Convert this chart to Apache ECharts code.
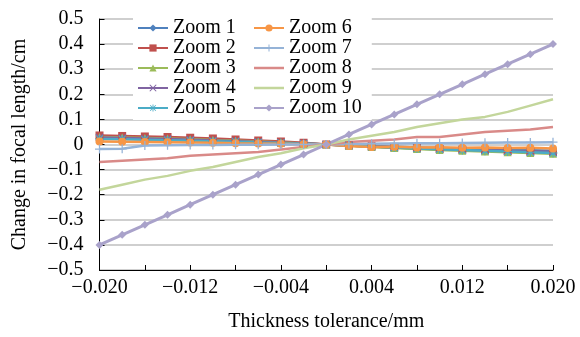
<!DOCTYPE html>
<html>
<head>
<meta charset="utf-8">
<script src="https://cdn.jsdelivr.net/npm/echarts@6/dist/echarts.min.js"></script>
<style>html,body{margin:0;padding:0;background:#fff;}#c{width:580px;height:337px;}</style>
</head>
<body>
<div id="c"></div>
<script>
var xValues = [-0.020,-0.018,-0.016,-0.014,-0.012,-0.010,-0.008,-0.006,-0.004,-0.002,0,0.002,0.004,0.006,0.008,0.010,0.012,0.014,0.016,0.018,0.020];
var zoom1 = [0.025,0.023,0.021,0.019,0.017,0.015,0.012,0.010,0.007,0.004,0,-0.003,-0.006,-0.009,-0.012,-0.015,-0.017,-0.019,-0.021,-0.023,-0.025];
var zoom2 = [0.036,0.034,0.032,0.030,0.027,0.024,0.020,0.016,0.012,0.007,0,-0.004,-0.008,-0.012,-0.015,-0.018,-0.021,-0.024,-0.027,-0.029,-0.031];
var zoom3 = [0.030,0.028,0.026,0.024,0.021,0.018,0.015,0.012,0.008,0.004,0,-0.005,-0.010,-0.014,-0.018,-0.022,-0.025,-0.028,-0.031,-0.034,-0.037];
var zoom4 = [0.028,0.026,0.024,0.022,0.019,0.016,0.013,0.010,0.007,0.004,0,-0.004,-0.008,-0.011,-0.014,-0.017,-0.020,-0.023,-0.026,-0.028,-0.030];
var zoom5 = [0.022,0.021,0.019,0.017,0.015,0.013,0.011,0.008,0.006,0.003,0,-0.004,-0.008,-0.012,-0.016,-0.019,-0.022,-0.025,-0.028,-0.031,-0.034];
var zoom6 = [0.012,0.011,0.010,0.009,0.008,0.007,0.005,0.004,0.003,0.001,0,-0.006,-0.010,-0.009,-0.012,-0.011,-0.013,-0.012,-0.014,-0.013,-0.016];
var zoom7 = [-0.018,-0.017,-0.004,-0.003,-0.002,-0.002,-0.001,-0.001,0,0,0,0.002,0.003,0.004,0.005,0.005,0.006,0.007,0.008,0.008,0.009];
var zoom8 = [-0.070,-0.065,-0.060,-0.055,-0.045,-0.040,-0.035,-0.030,-0.020,-0.010,0,0.010,0.015,0.020,0.030,0.030,0.040,0.050,0.055,0.060,0.070];
var zoom9 = [-0.180,-0.160,-0.140,-0.125,-0.105,-0.090,-0.070,-0.050,-0.035,-0.015,0,0.020,0.035,0.050,0.070,0.085,0.100,0.110,0.130,0.155,0.180];
var zoom10 = [-0.40,-0.36,-0.32,-0.28,-0.24,-0.20,-0.16,-0.12,-0.08,-0.04,0,0.04,0.08,0.12,0.16,0.20,0.24,0.28,0.32,0.36,0.40];
var seriesNames = ['Zoom 1','Zoom 2','Zoom 3','Zoom 4','Zoom 5','Zoom 6','Zoom 7','Zoom 8','Zoom 9','Zoom 10'];
var seriesData = [zoom1,zoom2,zoom3,zoom4,zoom5,zoom6,zoom7,zoom8,zoom9,zoom10];

var FONT = '"Liberation Serif","Times New Roman",serif';
var crossPath = 'path://M1,0 L5,4 L9,0 L10,1 L6,5 L10,9 L9,10 L5,6 L1,10 L0,9 L4,5 L0,1 Z';
var plusPath = 'path://M4.3,0 H5.7 V4.3 H10 V5.7 H5.7 V10 H4.3 V5.7 H0 V4.3 H4.3 Z';
var starPath = 'path://M4.4,0 H5.6 V4.4 H10 V5.6 H5.6 V10 H4.4 V5.6 H0 V4.4 H4.4 Z M1.5,0.7 L5,4.2 L8.5,0.7 L9.3,1.5 L5.8,5 L9.3,8.5 L8.5,9.3 L5,5.8 L1.5,9.3 L0.7,8.5 L4.2,5 L0.7,1.5 Z';
var lineIcon = 'path://M0,0 H30 V2.5 H0 Z';
var styles = [
  {color:'#4F81BD', symbol:'diamond', size:8},
  {color:'#C0504D', symbol:'rect', size:8},
  {color:'#9BBB59', symbol:'triangle', size:8},
  {color:'#8064A2', symbol:crossPath, size:8},
  {color:'#4BACC6', symbol:starPath, size:9},
  {color:'#F79646', symbol:'circle', size:8},
  {color:'#95B3D7', symbol:plusPath, size:9},
  {color:'#D98A88', symbol:'none', size:0},
  {color:'#C3D69B', symbol:'none', size:0},
  {color:'#A9A2CA', symbol:'diamond', size:8}
];

var series = seriesNames.map(function(n,i){
  var st = styles[i];
  return {
    name: n, type: 'line',
    data: xValues.map(function(x,j){ return [x, seriesData[i][j]]; }),
    symbol: st.symbol, symbolSize: st.size, showSymbol: st.symbol !== 'none',
    lineStyle: {color: st.color, width: i === 9 ? 3 : 2.5},
    itemStyle: {color: st.color},
    animation: false
  };
});

function legendData(names){
  return names.map(function(n){
    var i = seriesNames.indexOf(n);
    if (styles[i].symbol === 'none') return {name:n, icon:lineIcon, itemStyle:{color:styles[i].color}};
    return {name:n};
  });
}

var chart = echarts.init(document.getElementById('c'), null, {renderer:'canvas'});
chart.setOption({
  backgroundColor: '#fff',
  animation: false,
  grid: {left: 99.5, right: 27, top: 19, bottom: 65},
  legend: [
    {data: legendData(seriesNames.slice(0,5)), orient:'vertical', left:133, top:16, itemGap:0, itemWidth:30, itemHeight:9,
     backgroundColor:'#fff', padding:[2,16,2,4],
     textStyle:{fontFamily:FONT, fontSize:20, color:'#000', lineHeight:19.5}},
    {data: legendData(seriesNames.slice(5)), orient:'vertical', left:249, top:16, itemGap:0, itemWidth:30, itemHeight:9,
     backgroundColor:'#fff', padding:[2,10,2,4],
     textStyle:{fontFamily:FONT, fontSize:20, color:'#000', lineHeight:19.5}}
  ],
  xAxis: {
    type:'value', min:-0.020, max:0.020, interval:0.004,
    name:'Thickness tolerance/mm', nameLocation:'middle', nameGap:42,
    nameTextStyle:{fontFamily:FONT, fontSize:20, color:'#000'},
    axisLine:{show:true, onZero:false, lineStyle:{color:'#000', width:1}},
    axisTick:{show:true, inside:true, length:5, lineStyle:{color:'#000'}},
    splitLine:{show:false},
    axisLabel:{fontFamily:FONT, fontSize:20, color:'#000', margin:8,
      formatter:function(v){
        var r = Math.round(v*1000);
        if (Math.abs(r % 8) !== 4) return '';
        var s = Math.abs(v).toFixed(3);
        return (v < 0 ? '\u2212' : '') + s;
      }}
  },
  yAxis: {
    type:'value', min:-0.5, max:0.5, interval:0.1,
    name:'Change in focal length/cm', nameLocation:'middle', nameGap:70,
    nameTextStyle:{fontFamily:FONT, fontSize:20, color:'#000'},
    axisLine:{show:true, onZero:false, lineStyle:{color:'#000', width:1}},
    axisTick:{show:true, inside:true, length:5, lineStyle:{color:'#000'}},
    splitLine:{show:true, lineStyle:{color:'#BFBFBF', width:1.5}},
    axisLabel:{fontFamily:FONT, fontSize:20, color:'#000', margin:16,
      formatter:function(v){
        if (Math.abs(v) < 1e-9) return '0';
        return (v < 0 ? '\u2212' : '') + Math.abs(v).toFixed(1);
      }}
  },
  series: series
});
</script>
</body>
</html>
